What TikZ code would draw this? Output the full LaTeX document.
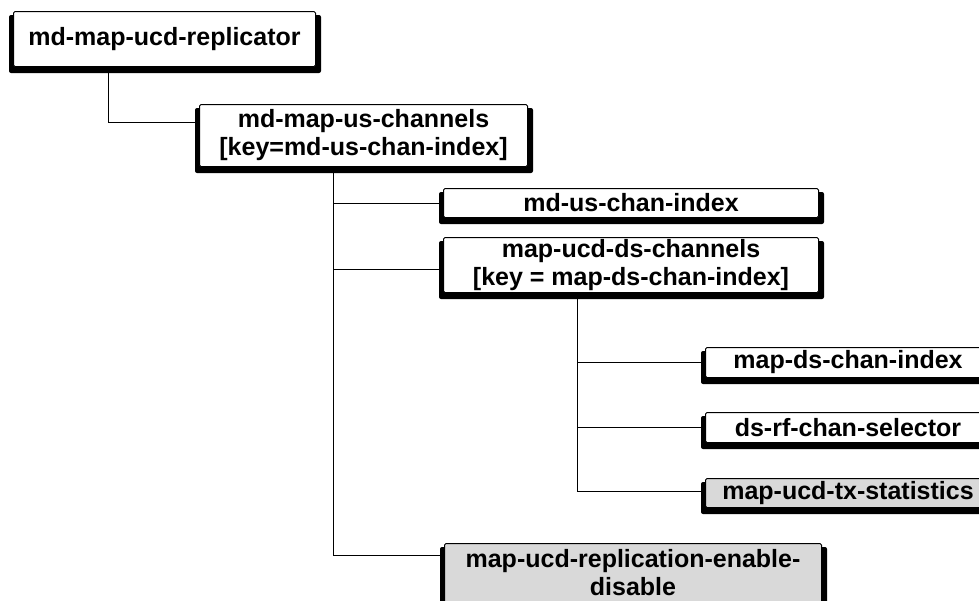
\documentclass[tikz,border=0pt]{standalone}
\usepackage{fontspec}
\setmainfont{Liberation Sans}
\usetikzlibrary{calc,backgrounds}
\tikzset{
  box/.style={draw, line width=1pt, fill=white, rounded corners=1.5pt, align=center,
    inner sep=0pt, anchor=north west, font=\bfseries\fontsize{25}{28}\selectfont},
  graybox/.style={box, fill=black!15},
  shade/.style={fill=black, rounded corners=2pt},
  wire/.style={draw, line width=1pt},
}
\begin{document}
\begin{tikzpicture}[x=1pt,y=-1pt]
            \useasboundingbox (0,0) rectangle (979,600);
            % 根
            \node[box, minimum width=302pt, minimum height=55pt](rep) at (13,11){md-map-ucd-replicator};

            % 上り
            \node[box, minimum width=328pt, minimum height=62pt](chan) at (199,104){md-map-us-channels\\{}[key=md-us-chan-index]};
            \node[box, minimum width=375pt, minimum height=29pt](usidx) at (443,188){md-us-chan-index};
            \node[box, minimum width=375pt, minimum height=55pt](dsch) at (443,237){map-ucd-ds-channels\\{}[key = map-ds-chan-index]};

            % 下り
            \node[box, minimum width=285pt, minimum height=30pt](dsidx) at (705,347){map-ds-chan-index};
            \node[box, minimum width=285pt, minimum height=30pt](rfsel) at (705,412){ds-rf-chan-selector};
            \node[graybox, minimum width=285pt, minimum height=29pt](txst) at (705,478){map-ucd-tx-statistics};

            % 有効／無効
            \node[graybox, minimum width=377pt, minimum height=66pt, text depth=9pt](enab) at (444,543){map-ucd-replication-enable-\\disable};

            % 影
            \begin{scope}[on background layer]
              \foreach \n in {rep,chan,usidx,dsch,dsidx,rfsel,txst,enab}
                \path[shade]([shift={(-4,4)}]\n.north west) rectangle ([shift={(5,6)}]\n.south east);
            \end{scope}

            % 線
            \coordinate(t1) at (108,122);
            \coordinate(t2) at (333,555);
            \coordinate(t3) at (577,491);
            \path[wire](rep.south -| t1) -- (t1) -- (t1 -| chan.west);
            \path[wire](chan.south -| t2) -- (t2) -- (t2 -| enab.west);
            \path[wire](t2 |- usidx.west) -- (usidx.west);
            \path[wire]([yshift=-4pt]t2 |- dsch.west) -- ([yshift=-4pt]dsch.west);
            \path[wire](dsch.south -| t3) -- (t3) -- (t3 -| txst.west);
            \path[wire](t3 |- dsidx.west) -- (dsidx.west);
            \path[wire](t3 |- rfsel.west) -- (rfsel.west);
        \end{tikzpicture}
\end{document}
